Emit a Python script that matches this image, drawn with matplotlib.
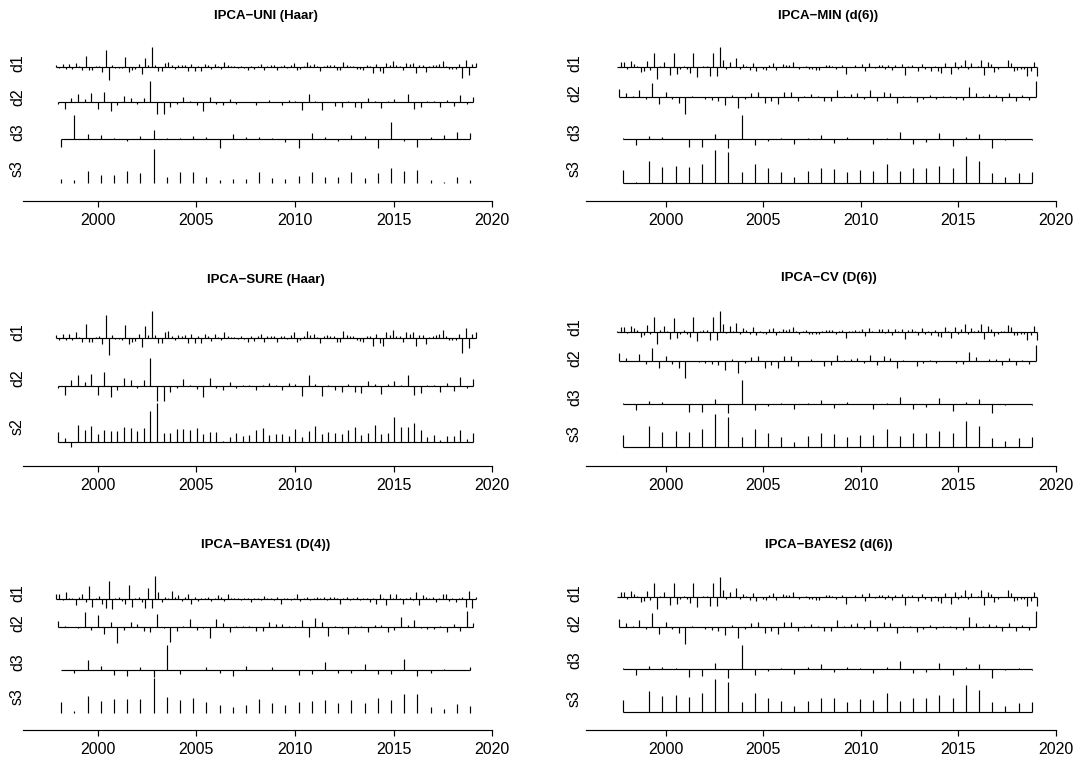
import numpy as np
import matplotlib
matplotlib.use("Agg")
import matplotlib.pyplot as plt

plt.rcParams['font.family'] = ['Liberation Sans', 'DejaVu Sans']

# ---------------- data (coefficient heights) ----------------
# time span (years) of each resolution level, left column (Haar / D(4)) and right column (d(6))
lvl_span = [
    {'d1': (1997.89, 2019.16), 'd2': (1998.00, 2019.05), 'd3': (1998.16, 2018.88)},
    {'d1': (1997.53, 2019.04), 'd2': (1997.63, 2018.95), 'd3': (1997.81, 2018.76)},
]

haar_d1 = [2, -1.5, 2.5, -2, 3, -2, 4, 0.5, -3, 10.5,
           -3, -3, 0.5, 1, -5, 17, -13, 2, -1, -1,
           -1.5, 10, -5, -3, -2.5, 3, -7, 9, 2, 20,
           2, -4, -4, 4, 5, 1.5, -2, 2, 1.5, 2,
           -4, 3, -4, 1, -4, 3, 1.5, -2.5, 2.5, 0.5,
           -2, 4.5, 1.5, 0.5, 0.5, -1, 1, -1, -3, 1,
           -2.5, 1, 2.5, -3, 1, 1.5, 1.5, -3.5, 1, 1.5,
           -1, 2, 4, -3, -2, 1, 5, 2, 3, 0.5,
           -4, 1, 2, 1.5, 1.5, -3, -3, 5, 2, 1,
           1, -2, -2.5, -3, 1.5, 1, -6, 3, -4, -6,
           4, 2, 6, 1.5, 1, -3, 4, 3, 4, -6,
           2, 2, -5, 0.5, 1.5, 2, 2.5, 6, 1, -2,
           -2, -2, 3, -11.7, 7, -8, 3, 4]
haar_d2 = [-1.5, -6.7, 4.7, 8.3, 3.3, 9.3, -6.7, 10.3, -8.3, -3,
           6.3, 4.3, -1.7, 4.3, 21.3, -11.7, -11.7, -4.3, -1.7, 5.3,
           1, -2.3, -8.3, 5.7, -1.7, -3, 3, -1.3, 0.5, 0.5,
           -2.7, 0.5, 2, 0.5, -3, 2.3, 1.7, -7.7, 8, 1.3,
           -7.7, 0.7, -3.3, -4.3, 1.7, -4.7, -5.3, 4, 1.3, -6,
           1.3, 3.7, 0.5, 8.3, -7, -5, 1, 1, -4.3, 2,
           -3.7, 7, -1.7, 5]
uni_d3 = [-8, 23.7, 4.7, 4, 1, -2.3, 2.7, 8.7, 0.5, 0.5,
          2.7, 1.3, -9.7, 4.7, 1.3, 2, 0.7, -3.3, -9, 5.3,
          1.3, -2, 3.3, 2.7, -9.7, 16.3, -2, -8.3, 1.7, 3.7,
          6.3, 6]
uni_s3 = [4.3, 3.7, 12, 8, 8.3, 12.3, 10.7, 34, 6.7, 11,
          11, 6.7, 3, 4.3, 4, 11, 5, 4.3, 7, 11.7,
          6.7, 6.3, 11.3, 5, 10, 15.3, 12.7, 13.7, 3.3, 1.7,
          6.3, 3.3]
sure_s2 = [10.7, 4, -4.3, 17.3, 12, 16.7, 8.7, 12.3, 11, 11,
           15.7, 14, 11.7, 14.3, 31.3, 39, 9, 9.7, 13, 13.7,
           12, 14.7, 8.7, 10, 10, 1.3, 5, 9.7, 6, 7.3,
           12.3, 14.3, 7.3, 8.3, 8.3, 6, 13, 5.7, 11, 16.7,
           8.3, 10, 9.3, 8.3, 12, 15, 7, 9.3, 17, 8.3,
           9.7, 25, 15.7, 15, 19.3, 12.3, 5.3, 7, 2.3, 6,
           6.3, 12, 3.7, 9]

d6_d1 = [0.5, 5, 5, -1.3, 6, 3.7, 1.3, -5, -3.3, 6.7,
         -2.7, 14.7, -12, 1.7, 5.7, 0.5, -7.7, 14, -6.7, -2,
         1.7, -2, -5.3, 14.7, -9.3, 0.5, 1.3, 1.3, -8.3, 14.7,
         -8.7, 20.7, 7.3, -1.7, 5.7, 0.5, 9, -2, 3.3, 1.3,
         -2.3, 4.7, -3.7, 0.5, -1.7, -2.3, 2.7, 4, -3, 0.5,
         3, 2, 2.3, 5, 0.5, -2, 0.5, 1.3, -2, -2,
         -2.7, -2.7, 0.5, 2, 2, 1.7, -2, 0.5, 2, -6.3,
         0.7, 0.5, 2, 0.5, 3, -4, 4, 0.5, -0.7, 2.7,
         2.3, -1.7, 2.3, -3, 2.3, 0.5, 3, -7.3, 1.7, 2.7,
         0.5, -3.3, 3.3, -2, 0.5, -3.7, 1.7, -4, -5.3, 4.3,
         0.5, -6.3, 5, -2, 2.3, 7.3, -2, 4, 0.5, 1.3,
         7.3, -7.3, 5.3, 3, -4.3, -2, 0.7, 0.5, 7, 4.7,
         -3.3, -3, -2, -2, -8.3, -3.7, 5.7, -8.3]
d6_d2 = [7.7, 3.3, 0.5, 6.7, -2.7, 13.3, -7.3, 4.7, -2.7, -6.7,
         -17.3, 0.5, -0.7, -2.3, -3, -4.3, -8.7, 1.7, -11.7, -2,
         3.7, 5, -6.7, -4, -7.3, 5, 4.7, -4.7, 0.5, 2.3,
         0.5, -4.7, -4.3, 6.5, 1, 2.3, 3.3, -2.3, 6.3, -4.3,
         5, 3.3, -6.7, 0.7, 0.5, -5.3, -2, 1.3, -2, 0.5,
         0.5, -2, -3, 9.3, 4, 0.5, 2.3, 1.7, -4.3, 3.3,
         -4.3, 1.3, -3.3, 15.7]
d6_d3 = [1, -6, 3, 2, 0.5, -8.3, -7.7, 5.3, -9.3, 24,
         -6.3, -2, 1, -5.3, 1.3, 4.3, -3.5, 2, 0.5, -4.7,
         1.3, 7.3, -4.7, -3.3, 5.7, -6.7, 1.7, 5, -9.3, -1,
         0.5, -1]
d6_s3 = [12.3, 0.3, 21.3, 15.7, 16.7, 15.3, 18.7, 33, 30.3, 10.3,
         18.7, 14.3, 10.7, 5.7, 11.3, 14.3, 13.5, 10.3, 12.7, 12,
         18.7, 11.3, 14.3, 14.3, 16.7, 14.3, 26.7, 21.7, 9.7, 6,
         9.3, 10.3]

d4_d1 = [4.7, 4.7, -1.3, 6.7, 0.5, 1.3, -6, 1.7, 5, -2.7,
         13, -7.7, 0.5, 3.3, -5.3, -9.3, 18.3, -10.3, 0.5, 1.7,
         -2.3, -5.3, 13.7, -7.7, 0.5, 1.7, -3, -9.3, 11.3, -9.3,
         23, 7.3, -2.7, 1.7, 1, 8, 2.3, 4, -1.7, 1.7,
         5, -4.7, 2, -2, 0.5, 0.5, 2.3, -2, 0.5, 3.7,
         2.3, -1.7, 4.7, 0.5, 0.7, 1, -1, 0.5, 1, -2.7,
         0.5, 1, -0.7, 3, 0.5, 1, -1, 2.3, -5.3, 0.5,
         1, -1, 0.5, 4.7, -2.3, 0.5, 1.7, -0.7, 1, 1.7,
         0.5, 1.7, -1, 1.7, 1.7, 0.5, -4.7, 0.5, 2.3, -1,
         0.5, 2.3, -1, 0.5, 0.5, -2.7, 1, -5, 5, 0.5,
         -5.7, 5, 0.5, 5, 0.5, -5, 1, 2, -1, 7.3,
         -6, 4, 2.3, 0.5, 1.7, -2.7, 1, 5.3, 5, -2,
         0.5, -2.7, 1, 1.7, -7.7, 8, -9.3, 1.7]
d4_d2 = [6, 1, -0.7, -1, 14.3, -3.3, 11.3, -7.7, 4.3, -16.7,
         -3.3, 4.3, 2.7, -4, -5, 12.7, -1.3, -15.7, -4, 0.5,
         7.3, -3.3, -1.7, -11.7, 8, 3.3, -5.7, 1, 0.5, 0.5,
         -4, -4, 4.7, 2.7, 2.3, 0.5, 0.5, 6.7, -10, 8.3,
         4.7, -9.3, 0.5, -1, -7.3, 0.5, 0.5, -5.7, 1.7, 2,
         -5.7, -3.3, 10, 1.7, 6.7, -1, -2, -2.7, 0.5, -5.3,
         2.3, -4.7, 16, 3.3]
d4_d3 = [0.5, -3, 10.3, 4.3, -4.7, -5.7, 3.3, -7, 25.7, -3.7,
         0.5, 3, -2.3, -5.7, 4.7, 0.5, 3, 0.5, -4.3, -4,
         8.7, -2.3, -3, 6.3, -3.7, -3.7, 11, -5.7, -3, 1,
         0.5, 3.3]
d4_s3 = [10.3, 1.3, 17, 11.7, 14, 13.7, 13.7, 34.3, 15.7, 12.7,
         14.3, 10.3, 8, 5.3, 7.7, 13.3, 9.3, 8, 11, 11.3,
         12.3, 10, 12.7, 9.3, 15, 13, 19, 19, 6, 4,
         9, 7]

titles = ["IPCA\u2212UNI (Haar)", "IPCA\u2212MIN (d(6))",
          "IPCA\u2212SURE (Haar)", "IPCA\u2212CV (D(6))",
          "IPCA\u2212BAYES1 (D(4))", "IPCA\u2212BAYES2 (d(6))"]
xticks = [2000, 2005, 2010, 2015, 2020]

# ---------------- layout (pixels of the 1075x760 image) ----------------
W, H = 1075, 760
SURE_SCALE = 1.32
ax_width_px = 488.5
# per column: axes left px, px of year 2000, px per year
col_geom = [(23.4, 97.6, 19.73), (586.1, 665.6, 19.52)]
title_x = [265.5, 828.4]
label_px = [17.5, 574.5]

# (title, col, title_y, axis_y, [(label, values, grid, scale, base_y, label_y, draw_base)])
panels = [
    (titles[0], 0, 15.5, 201.0, [
        ('d1', haar_d1, 'd1', 1.0, 66.7, 63.3, True),
        ('d2', haar_d2, 'd2', 1.0, 102.3, 96.7, True),
        ('d3', uni_d3, 'd3', 1.0, 138.7, 131.7, True),
        ('s3', uni_s3, 'd3', 1.0, 183.3, 168.3, False)]),
    (titles[1], 1, 15.5, 201.0, [
        ('d1', d6_d1, 'd1', 1.0, 67.3, 63.3, True),
        ('d2', d6_d2, 'd2', 1.0, 96.7, 93.3, True),
        ('d3', d6_d3, 'd3', 1.0, 139.0, 131.7, True),
        ('s3', d6_s3, 'd3', 1.0, 182.7, 168.3, True)]),
    (titles[2], 0, 280.0, 466.0, [
        ('d1', haar_d1, 'd1', SURE_SCALE, 337.7, 331.7, True),
        ('d2', haar_d2, 'd2', SURE_SCALE, 386.0, 378.3, True),
        ('s2', sure_s2, 'd2', 1.0, 442.3, 426.7, True)]),
    (titles[3], 1, 278.3, 466.0, [
        ('d1', d6_d1, 'd1', 1.0, 331.7, 326.7, True),
        ('d2', d6_d2, 'd2', 1.0, 361.0, 358.3, True),
        ('d3', d6_d3, 'd3', 1.0, 404.0, 396.7, True),
        ('s3', d6_s3, 'd3', 1.0, 447.3, 433.3, True)]),
    (titles[4], 0, 545.0, 730.0, [
        ('d1', d4_d1, 'd1', 1.0, 599.0, 593.3, True),
        ('d2', d4_d2, 'd2', 1.0, 626.7, 623.3, True),
        ('d3', d4_d3, 'd3', 1.0, 670.3, 661.7, True),
        ('s3', d4_s3, 'd3', 1.0, 712.7, 696.7, False)]),
    (titles[5], 1, 545.0, 730.0, [
        ('d1', d6_d1, 'd1', 1.0, 597.3, 593.3, True),
        ('d2', d6_d2, 'd2', 1.0, 626.7, 623.3, True),
        ('d3', d6_d3, 'd3', 1.0, 668.7, 660.0, True),
        ('s3', d6_s3, 'd3', 1.0, 712.0, 698.3, True)]),
]

fig = plt.figure(figsize=(W / 100, H / 100), dpi=100)

for title, col, ty, ay, levels in panels:
    left, px2000, ppy = col_geom[col]
    xmin = 2000 + (left - px2000) / ppy
    xmax = xmin + ax_width_px / ppy
    top = ty - 12
    ax = fig.add_axes([left / W, 1 - ay / H, ax_width_px / W, (ay - top) / H])
    ax.set_xlim(xmin, xmax)
    ax.set_ylim(-ay, -top)
    spans = lvl_span[col]
    for name, vals, grid, sc, by, ly, draw_base in levels:
        v = np.asarray(vals, dtype=float) * sc
        x = np.linspace(spans[grid][0], spans[grid][1], len(v))
        base = -by
        ax.vlines(x, base, base + v, colors='black', linewidth=0.85)
        if draw_base:
            ax.hlines(base, x[0], x[-1], colors='black', linewidth=0.85)
        lx = 2000 + (label_px[col] - px2000) / ppy
        ax.text(lx, -ly, name, rotation=90, ha='center', va='center',
                fontsize=11.5, clip_on=False)
    for s in ['top', 'left', 'right']:
        ax.spines[s].set_visible(False)
    ax.spines['bottom'].set_bounds(xmin, 2020)
    ax.spines['bottom'].set_linewidth(0.85)
    ax.set_yticks([])
    ax.set_xticks(xticks)
    ax.set_xticklabels([str(t) for t in xticks])
    ax.tick_params(axis='x', length=4.2, width=0.85, pad=4.5, labelsize=11.5)
    ax.patch.set_visible(False)
    fig.text(title_x[col] / W, 1 - ty / H, title, ha='center',
             va='center', fontsize=9.5, fontweight='bold')

fig.savefig('out.png', dpi=100)
